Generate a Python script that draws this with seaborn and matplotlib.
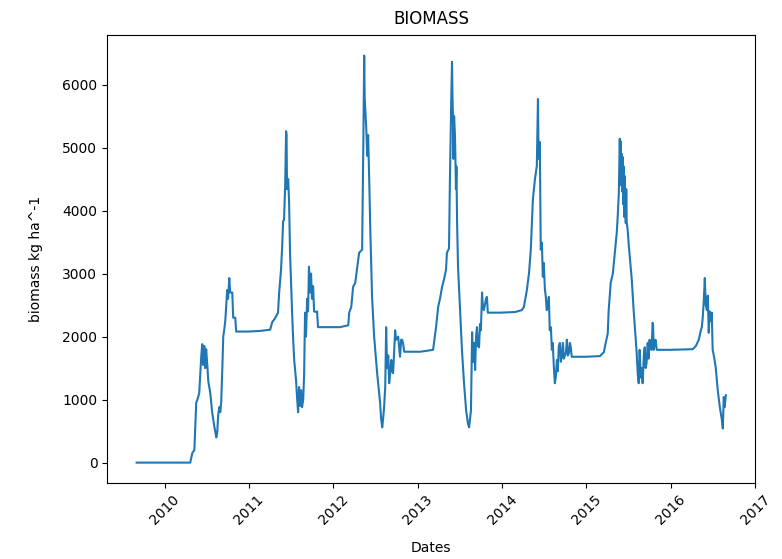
import pandas as pd
import matplotlib
matplotlib.use("Agg")
import matplotlib.pyplot as plt
import seaborn as sns

# biomass series (kg ha^-1)
dates = [
    # 2009-2010
    "2009-09-02", "2010-04-22", "2010-05-01", "2010-05-10", "2010-05-18", "2010-05-23",
    "2010-05-31", "2010-06-05", "2010-06-09", "2010-06-13", "2010-06-17", "2010-06-22",
    "2010-06-26", "2010-06-30", "2010-07-05", "2010-07-09", "2010-07-18", "2010-07-26",
    "2010-08-04", "2010-08-13", "2010-08-17", "2010-08-21", "2010-08-26", "2010-08-30",
    "2010-09-03", "2010-09-08", "2010-09-12", "2010-09-16", "2010-09-21", "2010-09-25",
    "2010-09-29", "2010-10-03", "2010-10-08", "2010-10-12", "2010-10-21", "2010-10-25",
    "2010-11-03", "2010-11-07", "2010-12-29",
    # 2011
    "2011-02-19", "2011-04-03", "2011-04-12", "2011-04-24", "2011-05-07", "2011-05-12",
    "2011-05-20", "2011-05-25", "2011-05-29", "2011-06-02", "2011-06-07", "2011-06-11",
    "2011-06-13", "2011-06-15", "2011-06-20", "2011-06-24", "2011-06-28", "2011-07-03",
    "2011-07-07", "2011-07-11", "2011-07-16", "2011-07-24", "2011-07-29", "2011-08-02",
    "2011-08-06", "2011-08-11", "2011-08-15", "2011-08-19", "2011-08-24", "2011-08-28",
    "2011-09-01", "2011-09-05", "2011-09-10", "2011-09-14", "2011-09-18", "2011-09-23",
    "2011-09-27", "2011-10-01", "2011-10-06", "2011-10-10", "2011-10-19", "2011-10-23",
    "2011-10-27",
    # 2012
    "2012-01-31", "2012-03-06", "2012-03-10", "2012-03-19", "2012-03-27", "2012-04-05",
    "2012-04-14", "2012-04-22", "2012-05-05", "2012-05-10", "2012-05-14", "2012-05-16",
    "2012-05-18", "2012-05-23", "2012-05-27", "2012-05-31", "2012-06-05", "2012-06-09",
    "2012-06-13", "2012-06-17", "2012-06-26", "2012-07-09", "2012-07-22", "2012-07-26",
    "2012-07-31", "2012-08-04", "2012-08-08", "2012-08-13", "2012-08-17", "2012-08-21",
    "2012-08-26", "2012-08-30", "2012-09-03", "2012-09-08", "2012-09-12", "2012-09-16",
    "2012-09-21", "2012-09-25", "2012-09-29", "2012-10-08", "2012-10-16", "2012-10-21",
    "2012-10-25", "2012-10-29", "2012-11-03",
    # 2013
    "2013-01-12", "2013-03-08", "2013-03-21", "2013-03-30", "2013-04-07", "2013-04-16",
    "2013-04-24", "2013-05-03", "2013-05-07", "2013-05-16", "2013-05-20", "2013-05-25",
    "2013-05-29", "2013-05-31", "2013-06-02", "2013-06-04", "2013-06-07", "2013-06-11",
    "2013-06-15", "2013-06-17", "2013-06-20", "2013-06-24", "2013-07-03", "2013-07-11",
    "2013-07-20", "2013-07-29", "2013-08-06", "2013-08-11", "2013-08-15", "2013-08-19",
    "2013-08-24", "2013-08-28", "2013-09-01", "2013-09-06", "2013-09-10", "2013-09-14",
    "2013-09-18", "2013-09-23", "2013-09-27", "2013-10-01", "2013-10-06", "2013-10-10",
    "2013-10-14", "2013-10-23", "2013-10-27", "2013-10-31", "2013-12-23",
    # 2014
    "2014-02-26", "2014-03-27", "2014-04-05", "2014-04-18", "2014-04-27", "2014-05-05",
    "2014-05-14", "2014-05-23", "2014-05-27", "2014-05-31", "2014-06-05", "2014-06-07",
    "2014-06-09", "2014-06-13", "2014-06-15", "2014-06-17", "2014-06-22", "2014-06-26",
    "2014-06-30", "2014-07-05", "2014-07-09", "2014-07-13", "2014-07-18", "2014-07-22",
    "2014-07-26", "2014-07-31", "2014-08-04", "2014-08-08", "2014-08-13", "2014-08-17",
    "2014-08-21", "2014-08-26", "2014-08-30", "2014-09-03", "2014-09-08", "2014-09-12",
    "2014-09-16", "2014-09-21", "2014-09-25", "2014-10-04", "2014-10-08", "2014-10-12",
    "2014-10-17", "2014-10-21", "2014-10-25", "2014-10-29", "2014-12-26",
    # 2015
    "2015-02-28", "2015-03-08", "2015-03-17", "2015-03-25", "2015-04-03", "2015-04-07",
    "2015-04-16", "2015-04-25", "2015-05-03", "2015-05-12", "2015-05-16", "2015-05-21",
    "2015-05-25", "2015-05-27", "2015-05-29", "2015-05-31", "2015-06-02", "2015-06-05",
    "2015-06-07", "2015-06-09", "2015-06-11", "2015-06-13", "2015-06-15", "2015-06-20",
    "2015-06-22", "2015-06-24", "2015-06-28", "2015-07-03", "2015-07-11", "2015-07-16",
    "2015-07-24", "2015-08-02", "2015-08-06", "2015-08-11", "2015-08-15", "2015-08-19",
    "2015-08-24", "2015-08-28", "2015-09-01", "2015-09-06", "2015-09-10", "2015-09-14",
    "2015-09-18", "2015-09-23", "2015-09-27", "2015-10-01", "2015-10-06", "2015-10-10",
    "2015-10-14", "2015-10-16", "2015-10-19", "2015-10-23", "2015-10-27", "2015-11-01",
    "2015-12-28",
    # 2016
    "2016-04-05", "2016-04-18", "2016-05-01", "2016-05-10", "2016-05-14", "2016-05-18",
    "2016-05-23", "2016-05-27", "2016-05-31", "2016-06-05", "2016-06-09", "2016-06-13",
    "2016-06-17", "2016-06-22", "2016-06-26", "2016-06-30", "2016-07-05", "2016-07-13",
    "2016-07-22", "2016-07-31", "2016-08-08", "2016-08-13", "2016-08-17", "2016-08-21",
    "2016-08-26",
]

biomass = [
    # 2009-2010
    0, 0, 150, 200, 950, 1000,
    1100, 1420, 1700, 1880, 1550, 1850,
    1500, 1800, 1550, 1300, 1100, 800,
    580, 400, 480, 750, 880, 800,
    950, 1500, 2000, 2100, 2260, 2500,
    2740, 2600, 2930, 2700, 2700, 2300,
    2300, 2080, 2080,
    # 2011
    2090, 2110, 2230, 2290, 2380, 2700,
    3060, 3430, 3830, 3850, 4400, 5260,
    5200, 4340, 4500, 4130, 3330, 2790,
    2380, 2000, 1630, 1310, 1000, 800,
    1200, 900, 1150, 880, 1000, 1400,
    2380, 2000, 2600, 2400, 3110, 2700,
    3000, 2600, 2800, 2400, 2390, 2400,
    2150,
    # 2012
    2150, 2180, 2380, 2470, 2790, 2850,
    3100, 3330, 3380, 5000, 6460, 5800,
    5660, 5300, 4870, 5200, 4450, 3750,
    3170, 2630, 2000, 1420, 940, 700,
    560, 700, 880, 1200, 2150, 1500,
    1700, 1260, 1400, 1630, 1450, 1420,
    1800, 2100, 1950, 2000, 1680, 1950,
    1950, 1900, 1760,
    # 2013
    1760, 1790, 2150, 2470, 2600, 2790,
    2900, 3060, 3330, 3400, 4500, 5600,
    6360, 5800, 5500, 4820, 5500, 5180,
    4340, 4700, 3810, 3110, 2420, 1790,
    1260, 830, 620, 560, 700, 830,
    2070, 1600, 1900, 1470, 2000, 2150,
    1850, 1830, 2200, 2100, 2700, 2450,
    2420, 2600, 2630, 2380, 2380,
    # 2014
    2390, 2420, 2470, 2740, 3000, 3380,
    4180, 4500, 4600, 4710, 5770, 5000,
    4820, 5090, 4180, 3380, 3490, 2950,
    3170, 2750, 2630, 2420, 2500, 2630,
    2100, 2150, 1790, 1900, 1500, 1260,
    1350, 1630, 1450, 1850, 1900, 1600,
    1680, 1900, 1650, 1750, 1950, 1700,
    1740, 1900, 1830, 1680, 1680,
    # 2015
    1690, 1720, 1750, 1900, 2050, 2420,
    2860, 3000, 3300, 3650, 3900, 4290,
    5140, 4700, 5100, 4400, 4900, 4300,
    4850, 4100, 4700, 3900, 4550, 3800,
    4340, 3810, 3700, 3450, 3110, 2900,
    2420, 1950, 1750, 1400, 1260, 1790,
    1350, 1500, 1260, 1700, 1830, 1500,
    1580, 1900, 1650, 1950, 1800, 1790,
    2220, 2200, 1790, 1900, 1950, 1790,
    1790,
    # 2016
    1800, 1850, 1950, 2100, 2150, 2300,
    2600, 2930, 2500, 2420, 2650, 2060,
    2400, 2250, 2380, 1790, 1700, 1520,
    1150, 880, 700, 540, 1040, 880,
    1070,
]

df = pd.DataFrame({"Dates": pd.to_datetime(dates), "biomass": biomass})

fig = plt.figure(figsize=(7.82, 5.59), dpi=100)
ax = fig.add_axes([0.137, 0.136, 0.829, 0.801])

sns.lineplot(data=df, x="Dates", y="biomass", ax=ax, color="#1f77b4", linewidth=1.5)

# right edge sits on 2017 so its tick is drawn
ax.set_xlim(right=pd.Timestamp("2017-01-01"))

ax.set_title("BIOMASS", fontsize=12, pad=8)
ax.set_xlabel("Dates", fontsize=10, labelpad=10)
ax.set_ylabel("biomass kg ha^-1", fontsize=10, labelpad=14)
plt.setp(ax.get_xticklabels(), rotation=45)

fig.savefig("out.png", dpi=100)
